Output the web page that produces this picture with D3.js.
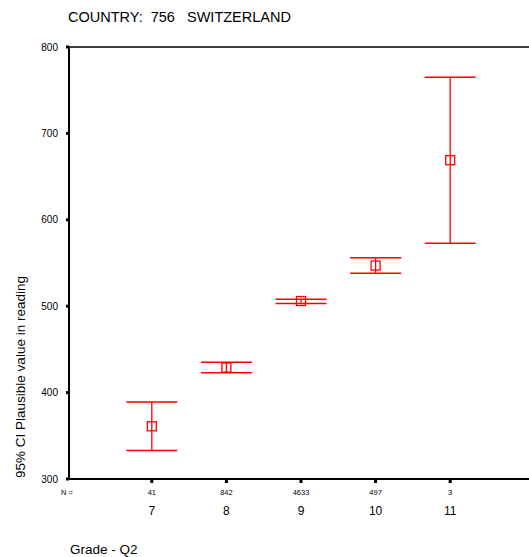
<!DOCTYPE html>
<html>
<head>
<meta charset="utf-8">
<script src="https://cdn.jsdelivr.net/npm/d3@7"></script>
<style>
  body { margin: 0; background: #fff; }
  text { font-family: "Liberation Sans", Arial, sans-serif; fill: #000; white-space: pre; }
</style>
</head>
<body>
<svg id="chart" width="529" height="557"></svg>
<script>
var grades = ["7", "8", "9", "10", "11"];
var counts = ["41", "842", "4633", "497", "3"];
var means = [361, 429, 506, 547, 669];
var lower = [333, 423, 503, 538, 573];
var upper = [389, 435, 508, 556, 765];
var yTicks = [300, 400, 500, 600, 700, 800];

var svg = d3.select("#chart");
var plotLeft = 69, plotTop = 47, plotBottom = 479;

var x = d3.scalePoint()
  .domain(grades)
  .range([plotLeft, 533])
  .padding(1.11);

var y = d3.scaleLinear()
  .domain([300, 800])
  .range([plotBottom, plotTop]);

// title
svg.append("text")
  .attr("x", 68).attr("y", 22)
  .style("font-size", "14.5px")
  .text("COUNTRY:  756   SWITZERLAND");

// frame
svg.append("line")
  .attr("x1", plotLeft).attr("x2", 529)
  .attr("y1", y(800)).attr("y2", y(800))
  .attr("stroke", "#000").attr("stroke-width", 1.3);
svg.append("line")
  .attr("x1", plotLeft).attr("x2", 529)
  .attr("y1", y(300)).attr("y2", y(300))
  .attr("stroke", "#000").attr("stroke-width", 2);
svg.append("line")
  .attr("x1", plotLeft).attr("x2", plotLeft)
  .attr("y1", y(800)).attr("y2", y(300))
  .attr("stroke", "#000").attr("stroke-width", 2);

// y ticks
var yt = svg.append("g").selectAll("g")
  .data(yTicks).enter().append("g")
  .attr("transform", function(d) { return "translate(0," + y(d) + ")"; });
yt.append("rect")
  .attr("x", plotLeft - 3).attr("y", -1.5)
  .attr("width", 3).attr("height", 3)
  .attr("fill", "#000");
yt.append("text")
  .attr("x", 58).attr("dy", "0.35em")
  .attr("text-anchor", "end")
  .style("font-size", "10px")
  .text(function(d) { return d; });

// y label
svg.append("text")
  .attr("transform", "translate(25,377) rotate(-90)")
  .attr("text-anchor", "middle")
  .style("font-size", "13.5px")
  .text("95% CI Plausible value in reading");

// x ticks and labels
svg.append("text")
  .attr("x", 61).attr("y", 494.5)
  .style("font-size", "7.5px")
  .text("N =");

var xt = svg.append("g").selectAll("g")
  .data(grades).enter().append("g")
  .attr("transform", function(d) { return "translate(" + x(d) + ",0)"; });
xt.append("rect")
  .attr("x", -1.5).attr("y", plotBottom + 1)
  .attr("width", 3).attr("height", 3)
  .attr("fill", "#000");
xt.append("text")
  .attr("y", 494.5)
  .attr("text-anchor", "middle")
  .style("font-size", "7.5px")
  .text(function(d, i) { return counts[i]; });
xt.append("text")
  .attr("y", 514.5)
  .attr("text-anchor", "middle")
  .style("font-size", "12px")
  .text(function(d) { return d; });

svg.append("text")
  .attr("x", 70).attr("y", 554)
  .style("font-size", "13.5px")
  .text("Grade - Q2");

// error bars
var red = "#ff0000";
var eb = svg.append("g").selectAll("g")
  .data(grades).enter().append("g");
eb.append("line")
  .attr("x1", function(d) { return x(d); })
  .attr("x2", function(d) { return x(d); })
  .attr("y1", function(d, i) { return y(upper[i]); })
  .attr("y2", function(d, i) { return y(lower[i]); })
  .attr("stroke", red).attr("stroke-width", 1.3);
eb.append("line")
  .attr("x1", function(d) { return x(d) - 25.5; })
  .attr("x2", function(d) { return x(d) + 25.5; })
  .attr("y1", function(d, i) { return y(upper[i]); })
  .attr("y2", function(d, i) { return y(upper[i]); })
  .attr("stroke", red).attr("stroke-width", 1.5);
eb.append("line")
  .attr("x1", function(d) { return x(d) - 25.5; })
  .attr("x2", function(d) { return x(d) + 25.5; })
  .attr("y1", function(d, i) { return y(lower[i]); })
  .attr("y2", function(d, i) { return y(lower[i]); })
  .attr("stroke", red).attr("stroke-width", 1.5);
eb.append("rect")
  .attr("x", function(d) { return x(d) - 4.5; })
  .attr("y", function(d, i) { return y(means[i]) - 4.5; })
  .attr("width", 9).attr("height", 9)
  .attr("fill", "none")
  .attr("stroke", red).attr("stroke-width", 1.3);
</script>
</body>
</html>
